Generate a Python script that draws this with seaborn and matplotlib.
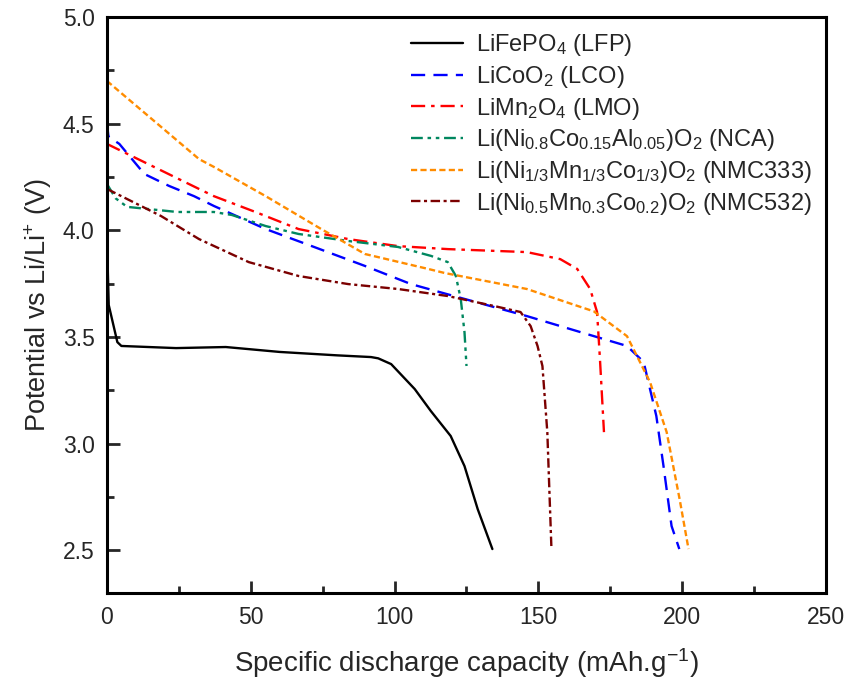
import matplotlib
matplotlib.use("Agg")
import matplotlib.pyplot as plt
import seaborn as sns
import pandas as pd
from matplotlib.ticker import MultipleLocator

# ---- data ----
lfp_x = [0.0, 0.3, 0.6, 3.6, 5, 24, 41.3, 60, 80, 91.8, 94.3, 98.8, 107, 112.6, 119.5, 124.3, 128.9, 134]
lfp_y = [4.05, 3.80, 3.65, 3.476, 3.458, 3.448, 3.453, 3.43, 3.414, 3.406, 3.40, 3.373, 3.256, 3.153, 3.036, 2.895, 2.693, 2.506]

lco_x = [0.0, 0.5, 4.3, 13, 21.6, 30.3, 37.2, 55.2, 71.2, 89.7, 105.7, 118.5, 146, 169.3, 180.8, 186.6, 191, 193.5, 196.3, 199]
lco_y = [4.50, 4.44, 4.405, 4.264, 4.208, 4.16, 4.114, 4.006, 3.926, 3.833, 3.748, 3.70, 3.598, 3.504, 3.458, 3.383, 3.13, 2.895, 2.614, 2.506]

lmo_x = [0.0, 32, 37.2, 51.6, 66.6, 83.9, 101.2, 118.5, 146, 157.6, 163.5, 168, 170.4, 171.4, 172.8]
lmo_y = [4.405, 4.194, 4.16, 4.086, 4.006, 3.959, 3.926, 3.912, 3.898, 3.865, 3.819, 3.725, 3.617, 3.397, 3.054]

nca_x = [0.0, 3, 7, 24.4, 37.2, 43.4, 55.2, 66.6, 83.9, 101.2, 112.7, 118.5, 121.3, 123, 124.3, 125]
nca_y = [4.217, 4.15, 4.11, 4.086, 4.086, 4.072, 4.02, 3.983, 3.95, 3.922, 3.88, 3.851, 3.786, 3.678, 3.523, 3.364]

nmc333_x = [0.0, 32, 37.2, 55.2, 74.5, 89.7, 111.7, 117.4, 146, 169.3, 180.8, 188.8, 194.6, 199.1, 202.2]
nmc333_y = [4.70, 4.334, 4.297, 4.16, 4.006, 3.889, 3.819, 3.80, 3.725, 3.62, 3.504, 3.289, 3.054, 2.74, 2.506]

nmc532_x = [0.0, 18.8, 32, 49.3, 66.6, 83.9, 101.2, 118.5, 134.7, 143.8, 147.3, 149.7, 151.4, 153.1, 154.5]
nmc532_y = [4.194, 4.067, 3.959, 3.851, 3.786, 3.748, 3.725, 3.692, 3.645, 3.617, 3.551, 3.458, 3.364, 3.054, 2.52]

labels = [r"LiFePO$_4$ (LFP)",
          r"LiCoO$_2$ (LCO)",
          r"LiMn$_2$O$_4$ (LMO)",
          r"Li(Ni$_{0.8}$Co$_{0.15}$Al$_{0.05}$)O$_2$ (NCA)",
          r"Li(Ni$_{1/3}$Mn$_{1/3}$Co$_{1/3}$)O$_2$ (NMC333)",
          r"Li(Ni$_{0.5}$Mn$_{0.3}$Co$_{0.2}$)O$_2$ (NMC532)"]
xs = [lfp_x, lco_x, lmo_x, nca_x, nmc333_x, nmc532_x]
ys = [lfp_y, lco_y, lmo_y, nca_y, nmc333_y, nmc532_y]
colors = ["#000000", "#0000FF", "#FF0000", "#00875F", "#FF8C00", "#7B0000"]
dash_patterns = [None, (6, 3.5), (6, 2.5, 1.5, 2.5), (5, 2, 1.5, 2, 1.5, 2), (2.6, 1.4), (4, 1.5, 1.3, 1.5)]

xticks = [0, 50, 100, 150, 200, 250]
yticks = [2.5, 3.0, 3.5, 4.0, 4.5, 5.0]

# ---- style ----
sns.set_style("ticks")
FONT = "Liberation Sans"
plt.rcParams["font.family"] = [FONT, "DejaVu Sans"]
plt.rcParams["mathtext.fontset"] = "custom"
plt.rcParams["mathtext.rm"] = FONT
plt.rcParams["mathtext.it"] = FONT + ":italic"
plt.rcParams["mathtext.bf"] = FONT + ":bold"

fig = plt.figure(figsize=(8.53, 6.88), dpi=100)
ax = fig.add_axes([107 / 853, 1 - 593 / 688, (826 - 107) / 853, (593 - 17) / 688])

for lab, x, y, c, d in zip(labels, xs, ys, colors, dash_patterns):
    df = pd.DataFrame({"x": x, "y": y})
    sns.lineplot(data=df, x="x", y="y", ax=ax, color=c, lw=1.7,
                 estimator=None, sort=False, label=lab, legend=False)
    line = ax.lines[-1]
    if d is not None:
        line.set_dashes(d)

ax.set_xlim(0, 250)
ax.set_ylim(2.3, 5.0)
ax.set_xticks(xticks)
ax.set_yticks(yticks)
ax.set_yticklabels([f"{v:.1f}" for v in yticks])
ax.xaxis.set_minor_locator(MultipleLocator(25))
ax.yaxis.set_minor_locator(MultipleLocator(0.25))
ax.tick_params(which="major", direction="in", length=9, width=2, labelsize=16.5, pad=9)
ax.tick_params(which="minor", direction="in", length=5, width=2)
ax.tick_params(top=False, right=False, which="both")
for s in ax.spines.values():
    s.set_visible(True)
    s.set_linewidth(2.2)
    s.set_color("black")

ax.set_xlabel(r"Specific discharge capacity (mAh.g$^{-1}$)", fontsize=20, labelpad=13)
ax.set_ylabel(r"Potential vs Li/Li$^{+}$ (V)", fontsize=19.5, labelpad=6)

leg = ax.legend(handles=ax.lines[:6], labels=labels, loc="upper left",
                bbox_to_anchor=(0.41, 0.99), frameon=False, fontsize=17,
                handlelength=2.2, handletextpad=0.55, labelspacing=0.24,
                borderaxespad=0.0)

fig.savefig("out.png", dpi=100)
